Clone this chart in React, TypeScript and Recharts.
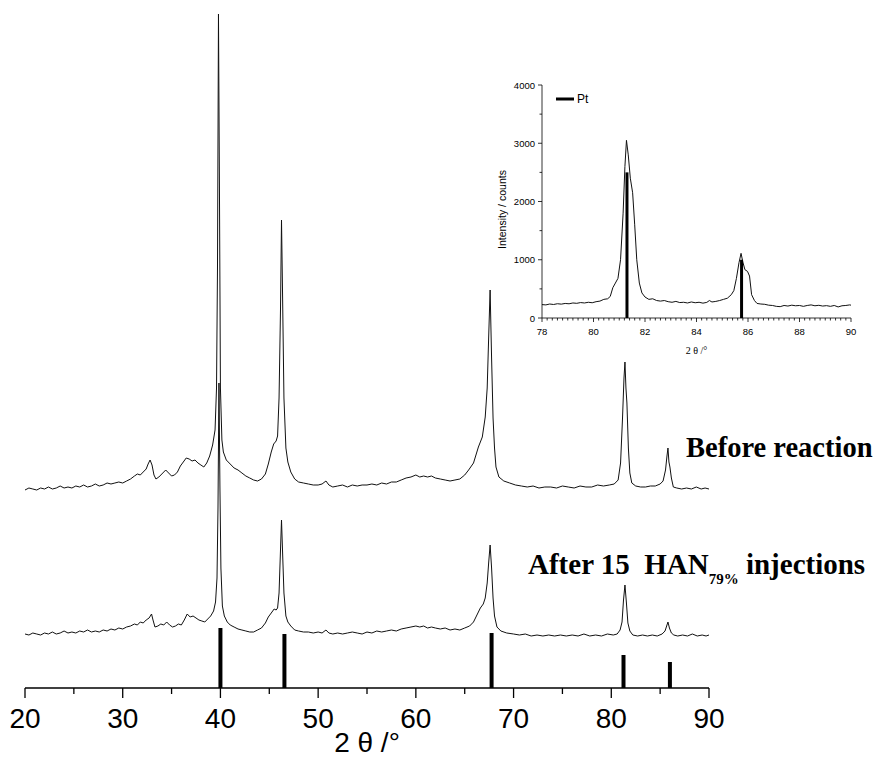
import { ComposedChart, LineChart, Line, XAxis, YAxis } from 'recharts';

// main panel: offset intensity (arb. units) vs 2theta
const mainTicks = [20, 25, 30, 35, 40, 45, 50, 55, 60, 65, 70, 75, 80, 85, 90];

const beforeScan: [number, number][] = [
  [20.0, 198], [20.4, 200], [20.8, 199], [21.2, 198], [21.6, 200], [22.0, 199], [22.4, 201], [22.8, 199],
  [23.2, 200], [23.6, 202], [24.0, 200], [24.4, 201], [24.8, 200], [25.2, 202], [25.6, 201], [26.0, 203],
  [26.4, 201], [26.8, 202], [27.2, 204], [27.6, 202], [28.0, 203], [28.4, 205], [28.8, 204], [29.2, 205],
  [29.6, 206], [30.0, 205], [30.4, 207], [30.8, 209], [31.2, 212], [31.5, 214], [31.8, 213], [32.1, 216],
  [32.4, 219], [32.6, 224], [32.8, 228], [33.0, 223], [33.2, 213], [33.4, 209], [33.7, 211], [34.0, 214],
  [34.4, 218], [34.7, 215], [35.0, 212], [35.3, 213], [35.6, 216], [35.9, 222], [36.2, 226], [36.5, 230],
  [36.8, 229], [37.1, 227], [37.4, 228], [37.7, 225], [38.0, 223], [38.3, 221], [38.6, 225], [38.9, 232],
  [39.2, 243], [39.45, 258], [39.6, 300], [39.7, 420], [39.8, 674], [39.9, 500], [40.0, 300], [40.15, 248],
  [40.3, 236], [40.6, 228], [41.0, 224], [41.4, 220], [41.8, 218], [42.2, 215], [42.6, 212], [43.0, 210],
  [43.4, 208], [43.8, 207], [44.2, 209], [44.6, 214], [44.9, 224], [45.2, 236], [45.45, 244], [45.7, 247],
  [45.85, 252], [46.0, 290], [46.15, 380], [46.25, 468], [46.35, 400], [46.5, 290], [46.7, 240], [46.9, 226],
  [47.2, 216], [47.6, 209], [48.0, 206], [48.5, 205], [49.0, 204], [49.5, 203], [50.0, 203], [50.4, 204],
  [50.8, 207], [51.1, 203], [51.5, 201], [52.0, 202], [52.5, 203], [53.0, 201], [53.5, 203], [54.0, 202],
  [54.5, 203], [55.0, 203], [55.5, 204], [56.0, 203], [56.5, 205], [57.0, 204], [57.5, 206], [58.0, 206],
  [58.5, 208], [59.0, 210], [59.5, 211], [60.0, 213], [60.4, 211], [60.8, 212], [61.2, 211], [61.6, 212],
  [62.0, 210], [62.5, 209], [63.0, 208], [63.5, 207], [64.0, 208], [64.5, 209], [65.0, 213], [65.4, 218],
  [65.9, 225], [66.4, 241], [66.8, 251], [67.1, 271], [67.3, 300], [67.45, 350], [67.6, 398], [67.75, 330],
  [67.9, 270], [68.05, 240], [68.2, 221], [68.5, 211], [69.0, 207], [69.6, 205], [70.2, 203], [70.8, 202],
  [71.4, 201], [72.0, 202], [72.6, 200], [73.2, 201], [73.8, 201], [74.4, 200], [75.0, 202], [75.6, 201],
  [76.2, 200], [76.8, 202], [77.4, 201], [78.0, 201], [78.6, 203], [79.2, 202], [79.8, 203], [80.3, 204],
  [80.7, 208], [80.95, 225], [81.15, 270], [81.3, 310], [81.4, 326], [81.5, 300], [81.6, 285], [81.75, 240],
  [81.9, 215], [82.1, 205], [82.5, 202], [83.0, 201], [83.5, 201], [84.0, 202], [84.5, 202], [85.0, 204],
  [85.3, 207], [85.55, 218], [85.7, 232], [85.8, 240], [85.9, 226], [86.0, 221], [86.15, 210], [86.35, 201],
  [86.7, 200], [87.2, 199], [87.7, 200], [88.2, 199], [88.7, 201], [89.2, 199], [89.6, 200], [90.0, 199],
];

const afterScan: [number, number][] = [
  [20.0, 54], [20.4, 53], [20.8, 55], [21.2, 54], [21.6, 53], [22.0, 55], [22.4, 54], [22.8, 56],
  [23.2, 54], [23.6, 55], [24.0, 57], [24.4, 55], [24.8, 56], [25.2, 55], [25.6, 57], [26.0, 56],
  [26.4, 58], [26.8, 56], [27.2, 57], [27.6, 56], [28.0, 58], [28.4, 57], [28.8, 59], [29.2, 58],
  [29.6, 60], [30.0, 59], [30.4, 61], [30.8, 62], [31.2, 64], [31.5, 63], [31.8, 66], [32.1, 65],
  [32.4, 68], [32.7, 70], [32.95, 74], [33.1, 68], [33.3, 61], [33.6, 62], [33.9, 64], [34.2, 63],
  [34.5, 66], [34.8, 63], [35.1, 61], [35.4, 62], [35.7, 64], [36.0, 63], [36.3, 68], [36.6, 74],
  [36.9, 71], [37.2, 72], [37.5, 70], [37.8, 68], [38.1, 67], [38.4, 66], [38.7, 69], [39.0, 72],
  [39.3, 77], [39.5, 86], [39.65, 110], [39.75, 180], [39.85, 305], [39.95, 200], [40.05, 120], [40.2, 82],
  [40.4, 72], [40.7, 66], [41.0, 63], [41.4, 61], [41.8, 59], [42.2, 58], [42.6, 57], [43.0, 56],
  [43.4, 56], [43.8, 58], [44.2, 60], [44.6, 65], [44.9, 71], [45.2, 75], [45.5, 79], [45.7, 78],
  [45.85, 80], [46.0, 95], [46.12, 130], [46.25, 168], [46.38, 130], [46.5, 95], [46.7, 72], [46.9, 66],
  [47.2, 62], [47.6, 58], [48.0, 57], [48.5, 56], [49.0, 56], [49.5, 55], [50.0, 56], [50.4, 55],
  [50.8, 58], [51.1, 55], [51.5, 54], [52.0, 55], [52.5, 54], [53.0, 55], [53.5, 56], [54.0, 55],
  [54.5, 54], [55.0, 56], [55.5, 55], [56.0, 57], [56.5, 56], [57.0, 57], [57.5, 58], [58.0, 57],
  [58.5, 59], [59.0, 60], [59.5, 61], [60.0, 62], [60.4, 61], [60.8, 62], [61.2, 60], [61.6, 61],
  [62.0, 60], [62.5, 59], [63.0, 60], [63.5, 58], [64.0, 59], [64.5, 58], [65.0, 60], [65.5, 62],
  [65.9, 66], [66.3, 74], [66.6, 80], [66.9, 84], [67.1, 90], [67.3, 105], [67.45, 125], [67.6, 143],
  [67.75, 120], [67.9, 90], [68.05, 72], [68.3, 61], [68.7, 57], [69.3, 55], [70.0, 54], [70.6, 53],
  [71.2, 54], [71.8, 52], [72.4, 53], [73.0, 52], [73.6, 53], [74.2, 52], [74.8, 53], [75.4, 52],
  [76.0, 53], [76.6, 52], [77.2, 54], [77.8, 52], [78.4, 53], [79.0, 52], [79.6, 54], [80.2, 53],
  [80.6, 54], [80.9, 58], [81.1, 66], [81.25, 88], [81.4, 103], [81.55, 85], [81.7, 65], [81.9, 57],
  [82.2, 53], [82.7, 52], [83.2, 53], [83.7, 52], [84.2, 53], [84.7, 52], [85.2, 54], [85.5, 57],
  [85.7, 63], [85.8, 66], [85.95, 60], [86.15, 55], [86.4, 53], [86.8, 52], [87.3, 53], [87.8, 52],
  [88.3, 54], [88.8, 52], [89.3, 53], [89.7, 52], [90.0, 53],
];

// Pt reference pattern (stick positions and heights)
const ptTheta = [40.0, 46.55, 67.75, 81.25, 86.0];
const ptHeight = [60, 54, 55, 33, 26];

// inset: 78-90 region, counts
const insetXTicks = Array.from({ length: 61 }, (_, i) => Math.round((78 + i * 0.2) * 10) / 10);
const insetYTicks = [0, 500, 1000, 1500, 2000, 2500, 3000, 3500, 4000];

const insetScan: [number, number][] = [
  [78.0, 230], [78.15, 225], [78.3, 240], [78.45, 232], [78.6, 245], [78.75, 238], [78.9, 250], [79.05, 244],
  [79.2, 258], [79.35, 252], [79.5, 265], [79.65, 258], [79.8, 270], [79.95, 262], [80.1, 280], [80.25, 290],
  [80.4, 320], [80.55, 330], [80.65, 370], [80.75, 520], [80.85, 600], [80.95, 680], [81.05, 1000], [81.15, 1800],
  [81.22, 2600], [81.28, 3050], [81.35, 2800], [81.43, 2400], [81.52, 2150], [81.6, 1600], [81.68, 1000], [81.78, 600],
  [81.88, 430], [82.0, 360], [82.15, 320], [82.3, 330], [82.45, 300], [82.6, 290], [82.75, 300], [82.9, 280],
  [83.05, 270], [83.2, 285], [83.35, 265], [83.5, 270], [83.65, 258], [83.8, 275], [83.95, 262], [84.1, 270],
  [84.25, 255], [84.4, 268], [84.5, 300], [84.6, 275], [84.75, 285], [84.9, 300], [85.05, 320], [85.2, 340],
  [85.35, 400], [85.45, 470], [85.55, 680], [85.65, 950], [85.73, 1110], [85.8, 960], [85.88, 830], [85.98, 800],
  [86.06, 720], [86.14, 400], [86.25, 300], [86.35, 250], [86.5, 240], [86.65, 235], [86.8, 220], [86.95, 215],
  [87.1, 200], [87.25, 195], [87.4, 215], [87.55, 205], [87.7, 220], [87.85, 210], [88.0, 215], [88.15, 200],
  [88.3, 215], [88.45, 225], [88.6, 210], [88.75, 218], [88.9, 205], [89.05, 212], [89.2, 200], [89.35, 215],
  [89.5, 190], [89.65, 210], [89.8, 215], [89.95, 225], [90.0, 220],
];
const insetPtTheta = [81.3, 85.75];
const insetPtCounts = [2500, 1000];

const SANS = '"Liberation Sans", Arial, sans-serif';
const SERIF = '"Liberation Serif", "Times New Roman", serif';

const toPoints = (scan: [number, number][]) => scan.map(([t, v]) => ({ t, v }));
const stick = (t: number, h: number) => [{ t, v: 0 }, { t, v: h }];

function MainTick({ x, y, payload }: any) {
  const major = payload.value % 10 === 0;
  return (
    <g>
      <line x1={x} y1={y} x2={x} y2={y + (major ? 10 : 6)} stroke="#000" strokeWidth={1.3} />
      {major && (
        <text x={x} y={y + 40} textAnchor="middle" fontSize={28} fontFamily={SANS} fill="#000">
          {payload.value}
        </text>
      )}
    </g>
  );
}

function InsetXTick({ x, y, payload }: any) {
  const major = Math.abs(payload.value / 2 - Math.round(payload.value / 2)) < 1e-6;
  return (
    <g>
      <line x1={x} y1={y} x2={x} y2={y + (major ? 4 : 2.5)} stroke="#000" strokeWidth={0.8} />
      {major && (
        <text x={x} y={y + 17} textAnchor="middle" fontSize={9.5} fontFamily={SANS} fill="#000">
          {payload.value}
        </text>
      )}
    </g>
  );
}

function InsetYTick({ x, y, payload }: any) {
  const major = payload.value % 1000 === 0;
  return (
    <g>
      <line x1={x} y1={y} x2={x - (major ? 4 : 2.5)} y2={y} stroke="#000" strokeWidth={0.8} />
      {major && (
        <text x={x - 7} y={y + 3.5} textAnchor="end" fontSize={9.5} fontFamily={SANS} fill="#000">
          {payload.value}
        </text>
      )}
    </g>
  );
}

export default function App() {
  return (
    <div style={{ position: 'absolute', left: 0, top: 0, width: 876, height: 760, background: '#fff' }}>
      <div style={{ position: 'absolute', left: 0, top: 0 }}>
        <ComposedChart width={876} height={760} margin={{ top: 8, right: 167, bottom: 12, left: 25 }}>
          <XAxis
            type="number"
            dataKey="t"
            domain={[20, 90]}
            ticks={mainTicks}
            height={60}
            tickSize={0}
            tickMargin={0}
            tick={<MainTick />}
            axisLine={{ stroke: '#000', strokeWidth: 1.3 }}
            allowDataOverflow
            label={{ value: '2 θ /°', position: 'insideBottom', offset: -4, fontSize: 28, fill: '#000', fontFamily: SANS }}
          />
          <YAxis hide type="number" domain={[0, 680]} allowDataOverflow />
          <Line data={toPoints(beforeScan)} dataKey="v" type="linear" stroke="#111" strokeWidth={1} dot={false} isAnimationActive={false} />
          <Line data={toPoints(afterScan)} dataKey="v" type="linear" stroke="#111" strokeWidth={1} dot={false} isAnimationActive={false} />
          {ptTheta.map((t, i) => (
            <Line key={t} data={stick(t, ptHeight[i])} dataKey="v" stroke="#000" strokeWidth={4} dot={false} isAnimationActive={false} />
          ))}
        </ComposedChart>
      </div>

      <div style={{ position: 'absolute', left: 460, top: 70 }}>
        <LineChart width={410} height={300} margin={{ top: 15, right: 19, bottom: 12, left: 32 }}>
          <XAxis
            type="number"
            dataKey="t"
            domain={[78, 90]}
            ticks={insetXTicks}
            interval={0}
            height={40}
            tickSize={0}
            tickMargin={0}
            tick={<InsetXTick />}
            axisLine={{ stroke: '#000', strokeWidth: 0.8 }}
            allowDataOverflow
            label={{ value: '2 θ /°', position: 'insideBottom', offset: 4, fontSize: 10, fill: '#000', fontFamily: SERIF }}
          />
          <YAxis
            type="number"
            domain={[0, 4000]}
            ticks={insetYTicks}
            interval={0}
            width={50}
            tickSize={0}
            tickMargin={0}
            tick={<InsetYTick />}
            axisLine={{ stroke: '#000', strokeWidth: 0.8 }}
            label={{ value: 'Intensity / counts', angle: -90, position: 'insideLeft', offset: 10, dy: 8, fontSize: 10.5, fill: '#000', fontFamily: SANS, style: { textAnchor: 'middle' } }}
          />
          <Line data={toPoints(insetScan)} dataKey="v" type="linear" stroke="#111" strokeWidth={1} dot={false} isAnimationActive={false} />
          {insetPtTheta.map((t, i) => (
            <Line key={t} data={stick(t, insetPtCounts[i])} dataKey="v" stroke="#000" strokeWidth={3} dot={false} isAnimationActive={false} />
          ))}
        </LineChart>
      </div>

      <svg width={876} height={760} style={{ position: 'absolute', left: 0, top: 0, pointerEvents: 'none' }}>
        <line x1={556} y1={99} x2={574} y2={99} stroke="#000" strokeWidth={3} />
        <text x={577} y={103} fontSize={12} fontFamily={SANS} fill="#000">Pt</text>
        <text x={686} y={457} fontSize={28.5} fontWeight="bold" fontFamily={SERIF} fill="#000">
          Before reaction
        </text>
        <text x={528} y={574} fontSize={29} fontWeight="bold" fontFamily={SERIF} fill="#000" style={{ whiteSpace: 'pre' }}>
          After 15  HAN
          <tspan fontSize={15} dy={10}>79%</tspan>
          <tspan dy={-10}> injections</tspan>
        </text>
      </svg>
    </div>
  );
}
